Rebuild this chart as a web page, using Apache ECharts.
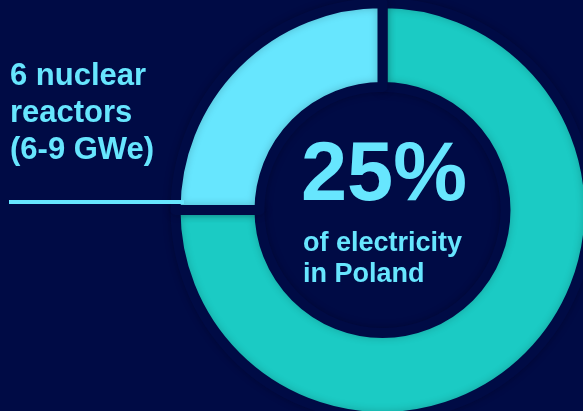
<!DOCTYPE html>
<html>
<head>
<meta charset="utf-8">
<script src="https://cdn.jsdelivr.net/npm/echarts@6/dist/echarts.min.js"></script>
<style>
html,body{margin:0;padding:0;background:#000b45;}
#c{width:583px;height:411px;}
</style>
</head>
<body>
<div id="c"></div>
<script>
const categories = ['Other sources', '6 nuclear reactors (6-9 GWe)'];
const shares = [75, 25];
const colors = ['#1bcbc4', '#67e6fe'];
const bigLabel = '25%';
const subLabel = 'of electricity\nin Poland';
const sideLabel = '6 nuclear\nreactors\n(6-9 GWe)';

const BG = '#000b45';
const chart = echarts.init(document.getElementById('c'), null, {renderer: 'canvas'});
chart.setOption({
  backgroundColor: BG,
  animation: false,
  series: [{
    type: 'pie',
    center: [382.5, 210],
    radius: [123, 207],
    startAngle: 90,
    clockwise: true,
    silent: true,
    label: {show: false},
    labelLine: {show: false},
    itemStyle: {
      borderColor: BG,
      borderWidth: 10,
      shadowBlur: 8,
      shadowColor: 'rgba(0,0,0,0.2)'
    },
    data: categories.map((n, i) => ({name: n, value: shares[i], itemStyle: {color: colors[i]}}))
  }],
  graphic: [
    {
      type: 'line', silent: true, z: 10,
      shape: {x1: 9, y1: 202, x2: 184, y2: 202},
      style: {stroke: colors[1], lineWidth: 4}
    },
    {
      type: 'text', silent: true, z: 10, x: 10, y: 58,
      style: {text: sideLabel, fill: colors[1], font: 'bold 31px "Liberation Sans", Arial, sans-serif', lineHeight: 37, align: 'left', verticalAlign: 'top'}
    },
    {
      type: 'text', silent: true, z: 10, x: 384, y: 177,
      style: {text: bigLabel, fill: colors[1], font: 'bold 83px "Liberation Sans", Arial, sans-serif', align: 'center', verticalAlign: 'middle'}
    },
    {
      type: 'text', silent: true, z: 10, x: 303, y: 228,
      style: {text: subLabel, fill: colors[1], font: 'bold 27px "Liberation Sans", Arial, sans-serif', lineHeight: 31, align: 'left', verticalAlign: 'top'}
    }
  ]
});
</script>
</body>
</html>
